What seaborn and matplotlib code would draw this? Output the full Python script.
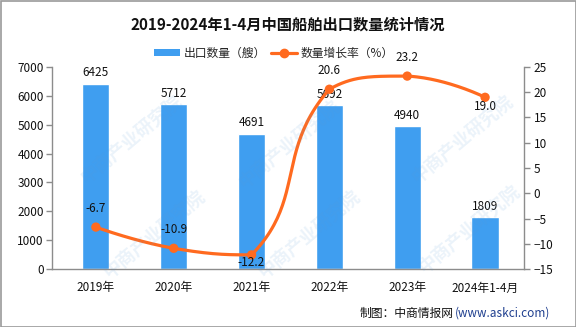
import numpy as np
import pandas as pd
import matplotlib
matplotlib.use("Agg")
import matplotlib.pyplot as plt
from matplotlib.lines import Line2D
from matplotlib.patches import Patch, Rectangle
import seaborn as sns

categories = ["2019年", "2020年", "2021年", "2022年", "2023年", "2024年1-4月"]
export_count = [6425, 5712, 4691, 5692, 4940, 1809]
growth_rate = [-6.7, -10.9, -12.2, 20.6, 23.2, 19.0]
left_ticks = [0, 1000, 2000, 3000, 4000, 5000, 6000, 7000]
right_ticks = [-15, -10, -5, 0, 5, 10, 15, 20, 25]
title = "2019-2024年1-4月中国船舶出口数量统计情况"
legend_labels = ["出口数量（艘）", "数量增长率（%）"]
footer_main = "制图：中商情报网"
footer_url = "(www.askci.com)"

BAR = "#3f9ef0"
LINE = "#ff6a1f"
SPINE = "#8c8c8c"

sns.set_theme(style="white")
plt.rcParams["font.family"] = ["Noto Sans CJK SC", "DejaVu Sans"]

W, H = 576, 327
fig = plt.figure(figsize=(W / 100, H / 100), dpi=100)
ax_l, ax_r, ax_b, ax_t = 52, 524, 269, 67
ax = fig.add_axes([ax_l / W, 1 - ax_b / H, (ax_r - ax_l) / W, (ax_b - ax_t) / H])

df = pd.DataFrame({"cat": categories, "count": export_count, "rate": growth_rate})
sns.barplot(data=df, x="cat", y="count", color=BAR, saturation=1, width=0.35, ax=ax, zorder=2)
ax.set_xlim(-0.5 - 5 / 78.7, 5.5)
ax.set_ylim(0, 7000)
ax.set_yticks(left_ticks)
ax.set_xlabel("")
ax.set_ylabel("")
ax.set_xticks(range(len(categories)))
ax.set_xticklabels(categories, fontsize=8.5, color="#111111")
ax.set_xticks(np.arange(-0.5, len(categories), 1.0), minor=True)
ax.tick_params(axis="x", which="major", length=0, pad=9)
ax.tick_params(axis="x", which="minor", length=4, width=1, color=SPINE, direction="out")
ax.tick_params(axis="y", length=4, width=1, color=SPINE, direction="out", pad=2,
               labelsize=8.5, labelcolor="#111111", left=True)
for s in ["top", "right"]:
    ax.spines[s].set_visible(False)
for s in ["left", "bottom"]:
    ax.spines[s].set_color(SPINE)
    ax.spines[s].set_linewidth(1)

for i, v in enumerate(export_count):
    ax.annotate(f"{v}", (i, v), xytext=(0, 3), textcoords="offset points",
                ha="center", va="bottom", fontsize=8.5, color="#111111", zorder=6)

ax2 = ax.twinx()
ax2.set_ylim(-15, 25)
ax2.set_yticks(right_ticks)
ax2.tick_params(axis="y", length=4, width=1, color=SPINE, direction="out", pad=3,
                labelsize=8.5, labelcolor="#111111", right=True)
for s in ["top", "left", "bottom"]:
    ax2.spines[s].set_visible(False)
ax2.spines["right"].set_color(SPINE)
ax2.spines["right"].set_linewidth(1)
ax2.grid(False)
ax.grid(False)

# smooth curve (ECharts-style bezier smoothing with bounding-box constraint), in pixel space
px_x = 78.7
px_y = 202 / 40
xs = np.arange(len(growth_rate), dtype=float)
ys = np.array(growth_rate, dtype=float)
P = np.column_stack([xs * px_x, ys * px_y])
pmin, pmax = P.min(axis=0), P.max(axis=0)
smooth = 0.5
n = len(P)
cp_in = [None] * n
cp_out = [None] * n
for i in range(n):
    if i == 0 or i == n - 1:
        cp_in[i] = P[i].copy()
        cp_out[i] = P[i].copy()
        continue
    v = (P[i + 1] - P[i - 1]) * smooth
    d0 = np.linalg.norm(P[i] - P[i - 1])
    d1 = np.linalg.norm(P[i + 1] - P[i])
    r = d1 / (d0 + d1)
    cp_in[i] = np.clip(P[i] - v * (1 - r), pmin, pmax)
    cp_out[i] = np.clip(P[i] + v * r, pmin, pmax)
t = np.linspace(0, 1, 50)[:, None]
curve = []
for i in range(n - 1):
    p1, c1, c2, p2 = P[i], cp_out[i], cp_in[i + 1], P[i + 1]
    seg = (1 - t) ** 3 * p1 + 3 * (1 - t) ** 2 * t * c1 + 3 * (1 - t) * t ** 2 * c2 + t ** 3 * p2
    curve.append(seg if i == 0 else seg[1:])
curve = np.vstack(curve)
ax2.plot(curve[:, 0] / px_x, curve[:, 1] / px_y, color=LINE, lw=2.3, zorder=4,
         solid_capstyle="round")
sns.scatterplot(x=xs, y=ys, color=LINE, s=45, edgecolor="none", ax=ax2, zorder=5)

offsets = [9, 9, -1, 9, 9, -2]
for i, v in enumerate(growth_rate):
    dy = offsets[i]
    ax2.annotate(f"{v:.1f}", (i, v), xytext=(0, dy), textcoords="offset points",
                 ha="center", va="bottom" if dy > 0 else "top", fontsize=8.5,
                 color="#111111", zorder=6)

fig.text(288 / W, 1 - 25 / H, title, ha="center", va="center", fontsize=11,
         fontweight="bold", color="#111111")

handles = [Patch(facecolor=BAR, edgecolor="none"),
           Line2D([0], [0], color=LINE, lw=2.3, marker="o", markersize=6)]
fig.legend(handles, legend_labels, loc="center", bbox_to_anchor=(274 / W, 1 - 53 / H),
           ncol=2, frameon=False, fontsize=8.5, handlelength=2.2, handleheight=0.55,
           handletextpad=0.35, columnspacing=0.4, borderaxespad=0)

url_txt = fig.text(550 / W, 1 - 313 / H, footer_url, ha="right", va="center", fontsize=8.5,
                   color="#1f3f8f")
fig.canvas.draw()
bb = url_txt.get_window_extent(renderer=fig.canvas.get_renderer())
fig.text(bb.x0 / W - 1 / W, 1 - 313 / H, footer_main, ha="right", va="center",
         fontsize=8.5, color="#111111")

# faint watermark
wm_pos = [(132, 140), (290, 145), (463, 140),
          (155, 235), (310, 235), (470, 230)]
for (x, y) in wm_pos:
    fig.text(x / W, 1 - y / H, "中商产业研究院", rotation=40, ha="center", va="center",
             fontsize=13, color="#5b9bd5", alpha=0.12, fontweight="bold", zorder=10)

fig.add_artist(Rectangle((0.5 / W, 0.5 / H), 1 - 1 / W, 1 - 1 / H, transform=fig.transFigure,
                         fill=False, edgecolor="#9a9a9a", lw=1.2))

fig.savefig("out.png", dpi=100)
